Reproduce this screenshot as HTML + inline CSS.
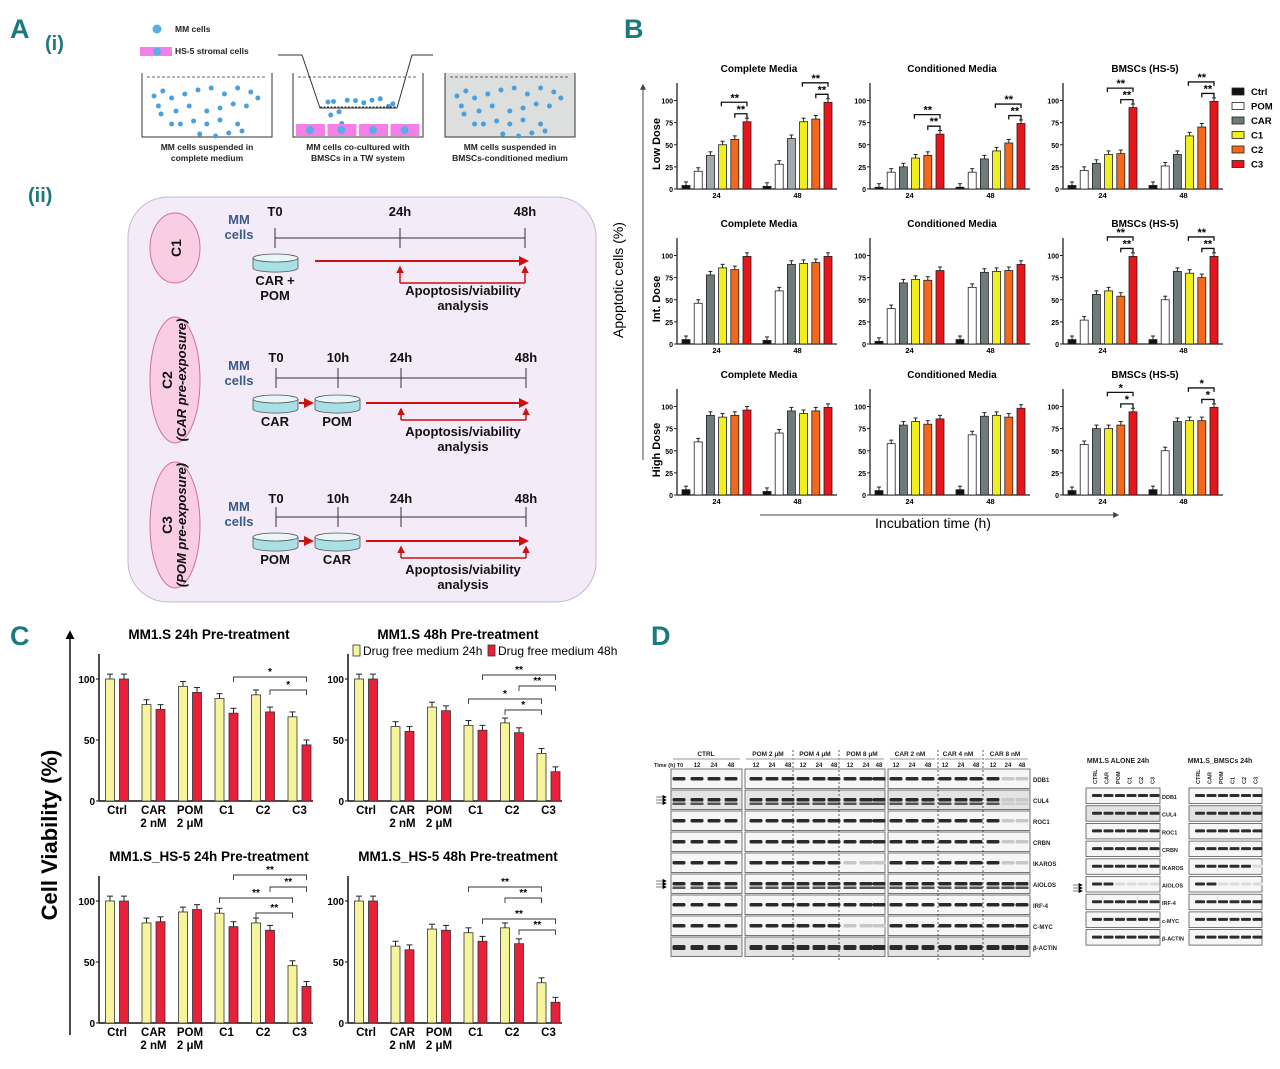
<!DOCTYPE html>
<html><head><meta charset="utf-8"><style>
html,body{margin:0;padding:0;background:#fff}
svg{display:block;font-family:"Liberation Sans",sans-serif}
</style></head><body>
<svg id="fig" width="1280" height="1069" viewBox="0 0 1280 1069" xmlns="http://www.w3.org/2000/svg">
<defs>
<marker id="ah" viewBox="0 0 10 10" refX="8" refY="5" markerWidth="5" markerHeight="5" orient="auto"><path d="M0,0 L10,5 L0,10 z" fill="#cc1111"/></marker>
<marker id="ahk" viewBox="0 0 10 10" refX="8" refY="5" markerWidth="6" markerHeight="6" orient="auto"><path d="M0,0 L10,5 L0,10 z" fill="#000"/></marker>
<marker id="ahg" viewBox="0 0 10 10" refX="8" refY="5" markerWidth="6" markerHeight="6" orient="auto"><path d="M0,0 L10,5 L0,10 z" fill="#444"/></marker>
</defs>
<g font-weight="bold" fill="#1a7a80" font-size="27">
<text x="10" y="38">A</text>
<text x="624" y="38">B</text>
<text x="10" y="645">C</text>
<text x="651" y="645">D</text>
<text x="45" y="50" font-size="20">(i)</text>
<text x="28" y="202" font-size="20">(ii)</text>
</g>
<g id="panelA"></g>
<g id="panelB"></g>
<g id="panelC"></g>
<g id="panelD"></g>
</svg>
<script>
// ---------- Panel B data ----------
const bSeries = ["Ctrl","POM","CAR","C1","C2","C3"];
const bTimes = ["24","48"];
const bTicks = [0,25,50,75,100];
const bRows = ["Low Dose","Int. Dose","High Dose"];
const bCols = ["Complete Media","Conditioned Media","BMSCs (HS-5)"];
const lowCM24=[4,20,38,50,56,76], lowCM48=[3,28,57,76,79,98];
const lowCo24=[2,19,25,35,38,62], lowCo48=[2,19,34,43,52,74];
const lowBM24=[4,21,29,39,40,92], lowBM48=[4,26,39,60,70,99];
const intCM24=[5,46,78,86,84,99], intCM48=[4,60,90,91,92,99];
const intCo24=[3,40,69,73,72,83], intCo48=[5,64,81,82,83,90];
const intBM24=[5,27,56,60,54,99], intBM48=[5,50,82,80,75,99];
const hiCM24=[6,60,90,88,90,96], hiCM48=[4,70,95,92,95,99];
const hiCo24=[5,58,79,83,80,86], hiCo48=[6,68,89,90,88,98];
const hiBM24=[5,57,75,75,79,94], hiBM48=[6,50,83,84,84,99];
// ---------- Panel C data ----------
const cCats = [["Ctrl"],["CAR","2 nM"],["POM","2 \u03bcM"],["C1"],["C2"],["C3"]];
const cTicks = [0,50,100];
const cTitles = ["MM1.S 24h Pre-treatment","MM1.S 48h Pre-treatment","MM1.S_HS-5 24h Pre-treatment","MM1.S_HS-5 48h Pre-treatment"];
const c24a=[100,79,94,84,87,69], c48a=[100,75,89,72,73,46];
const c24b=[100,61,77,62,64,39], c48b=[100,57,74,58,56,24];
const c24c=[100,82,91,90,82,47], c48c=[100,83,93,79,76,30];
const c24d=[100,63,77,74,78,33], c48d=[100,60,76,67,65,17];

const NS="http://www.w3.org/2000/svg";
function mk(parent,tag,attrs,txt){const e=document.createElementNS(NS,tag);for(const k in attrs)e.setAttribute(k,attrs[k]);if(txt!==undefined)e.textContent=txt;parent.appendChild(e);return e;}

// ================= Panel A =================
(function(){
const A=document.getElementById('panelA');
const t=(x,y,s,fs,anchor,fill,name,w)=>{const e=mk(A,'text',{x:x,y:y,'font-size':fs,'text-anchor':anchor||'start','font-weight':w||'bold',fill:fill||'#222'},s);return e;};
mk(A,'circle',{cx:157,cy:29,r:4.5,fill:'#5aaee8'});
t(175,32,'MM cells',8.5,'start','#222','legend-mm-cells');
mk(A,'rect',{x:140,y:47,width:32,height:9,fill:'#f57ee8'});
mk(A,'circle',{cx:157,cy:51.5,r:4,fill:'#5aaee8'});
t(175,54,'HS-5 stromal cells',8.5,'start','#222','legend-hs5');
const boxes=[142,293,445];
const dots=[[0,20],[10,15],[20,22],[35,18],[50,14],[65,12],[80,18],[95,12],[110,16],[118,22],[5,30],[25,35],[40,30],[60,35],[75,32],[90,28],[105,30],[30,48],[45,45],[60,48],[75,44],[95,48],[52,58],[70,60],[85,57],[100,55],[20,48],[8,38]];
boxes.forEach((bx,i)=>{
  const g=mk(A,'g',{});
  mk(g,'path',{d:`M${bx},73 L${bx},137 L${bx+130},137 L${bx+130},73`,fill:i==2?'#dcdfde':'none',stroke:'#333','stroke-width':1});
  mk(g,'line',{x1:bx+5,y1:77,x2:bx+125,y2:77,stroke:'#333','stroke-dasharray':'3,2','stroke-width':0.8});
  if(i==1){
    dots.slice(0,12).forEach((d,j)=>{mk(g,'circle',{cx:bx+35+(d[0]*0.55),cy:84+(d[1]*0.9)+ (j%3)*4,r:2.5,fill:'#4aa0dc'});});
    for(let k=0;k<4;k++){mk(g,'rect',{x:bx+3+k*31.5,y:124,width:29,height:12,fill:'#f57ee8'});mk(g,'circle',{cx:bx+17+k*31.5,cy:130,r:4,fill:'#5aaee8'});}
  } else {
    dots.forEach(d=>mk(g,'circle',{cx:bx+12+d[0]*0.88,cy:76+d[1]*1.0,r:2.5,fill:'#4aa0dc'}));
  }
});
mk(A,'path',{d:'M278,55 L302,55 L320,108 L397,108 L412,55 L433,55',fill:'none',stroke:'#333','stroke-width':1});
mk(A,'line',{x1:320,y1:107,x2:397,y2:107,stroke:'#333','stroke-dasharray':'2,1.5','stroke-width':1});
const caps=[['MM cells suspended in','complete medium'],['MM cells co-cultured with','BMSCs in a TW system'],['MM cells suspended in','BMSCs-conditioned medium']];
caps.forEach((c,i)=>{t(boxes[i]+65,150,c[0],8.5,'middle','#222','caption-'+(i+1)+'-line1');t(boxes[i]+65,161,c[1],8.5,'middle','#222','caption-'+(i+1)+'-line2');});
const box=mk(A,'rect',{x:128,y:197,width:468,height:405,rx:40,fill:'#f4ebf8',stroke:'#c9b3d6','stroke-width':1});

const ovals=[[248,35,'C1',''],[380,63,'C2','(CAR pre-exposure)'],[525,63,'C3','(POM pre-exposure)']];
ovals.forEach((o,i)=>{
  const e=mk(A,'ellipse',{cx:175,cy:o[0],rx:25,ry:o[1],fill:'#f9cde3',stroke:'#d0708f','stroke-width':1});
  
  const tx=mk(A,'text',{transform:`translate(${o[3]?172:181},${o[0]}) rotate(-90)`,'text-anchor':'middle','font-size':14,'font-weight':'bold',fill:'#111'},o[2]);
  
  if(o[3]){const t2=mk(A,'text',{transform:`translate(186,${o[0]}) rotate(-90)`,'text-anchor':'middle','font-size':13,'font-weight':'bold','font-style':'italic',fill:'#111'},o[3]);}
});
function dish(x,y,name){const g=mk(A,'g',{});
  mk(g,'path',{d:`M${x},${y-4} L${x},${y+6} A22,4 0 0 0 ${x+45},${y+6} L${x+45},${y-4}`,fill:'#a9e0e6',stroke:'#555','stroke-width':0.8});
  mk(g,'ellipse',{cx:x+22.5,cy:y-4,rx:22.5,ry:4,fill:'#e8f6f8',stroke:'#555','stroke-width':0.8});}
const rows=[{ly:238,lab:216,dy:262,ay:261,by:283,pts:[[275,'T0'],[400,'24h'],[525,'48h']],dishes:[[253,'CAR +','POM']],ax:315,t1:295},
 {ly:378,lab:362,dy:403,ay:403,by:420,pts:[[276,'T0'],[338,'10h'],[401,'24h'],[526,'48h']],dishes:[[253,'CAR'],[315,'POM']],ax:366,t1:436},
 {ly:517,lab:503,dy:541,ay:541,by:558,pts:[[276,'T0'],[338,'10h'],[401,'24h'],[526,'48h']],dishes:[[253,'POM'],[315,'CAR']],ax:366,t1:574}];
rows.forEach((r,i)=>{
  t(239,r.lab+8,'MM',13,'middle','#3a5a8a','mm-label-'+(i+1));
  t(239,r.lab+23,'cells',13,'middle','#3a5a8a','cells-label-'+(i+1));
  mk(A,'line',{x1:r.pts[0][0],y1:r.ly,x2:r.pts[r.pts.length-1][0],y2:r.ly,stroke:'#333','stroke-width':1});
  r.pts.forEach(p=>{mk(A,'line',{x1:p[0],y1:r.ly-10,x2:p[0],y2:r.ly+10,stroke:'#333','stroke-width':1});t(p[0],r.lab,p[1],13,'middle','#111','time-'+p[1]+'-'+(i+1));});
  r.dishes.forEach((d,j)=>{dish(d[0],r.dy,'dish-'+(i+1)+'-'+(j+1));t(d[0]+22,r.dy+23,d[1],13,'middle','#111','drug-'+(i+1)+'-'+(j+1));if(d[2])t(d[0]+22,r.dy+38,d[2],13,'middle','#111','drug2-'+(i+1));});
  if(r.dishes.length>1)mk(A,'line',{x1:299,y1:r.dy,x2:312,y2:r.dy,stroke:'#cc1111','stroke-width':2,'marker-end':'url(#ah)'});
  mk(A,'line',{x1:r.ax,y1:r.ay,x2:527,y2:r.ay,stroke:'#cc1111','stroke-width':2,'marker-end':'url(#ah)'});
  const x24=r.pts[r.pts.length-2][0],x48=r.pts[r.pts.length-1][0];
  mk(A,'path',{d:`M${x24},${r.by} L${x48},${r.by}`,stroke:'#cc1111','stroke-width':1.5,fill:'none'});
  mk(A,'line',{x1:x24,y1:r.by,x2:x24,y2:r.ay+6,stroke:'#cc1111','stroke-width':1.5,'marker-end':'url(#ah)'});
  mk(A,'line',{x1:x48,y1:r.by,x2:x48,y2:r.ay+6,stroke:'#cc1111','stroke-width':1.5,'marker-end':'url(#ah)'});
  t(463,r.t1,'Apoptosis/viability',13,'middle','#111','apoptosis-'+(i+1));
  t(463,r.t1+15,'analysis',13,'middle','#111','analysis-'+(i+1));
});
})();

// ================= Panel B =================
(function(){
const B=document.getElementById('panelB');
const data=[[[lowCM24,lowCM48],[lowCo24,lowCo48],[lowBM24,lowBM48]],
            [[intCM24,intCM48],[intCo24,intCo48],[intBM24,intBM48]],
            [[hiCM24,hiCM48],[hiCo24,hiCo48],[hiBM24,hiBM48]]];
const colors=['#111','#fff','#6f7b7b','#f0f01e','#f4681c','#e8161a'];
const axX=[677,870,1063], y0s=[189,344,495];
const sig={"0-0":["**","**"],"0-1":["**","**"],"0-2":["**","**"],"1-2":["**","**"],"2-2":["*","*"]};
for(let r=0;r<3;r++)for(let c=0;c<3;c++){
  const g=mk(B,'g',{});
  const ax=axX[c],y0=y0s[r];
  const y=v=>y0-v*0.885;
  const xb=(gi,si)=>ax+9+gi*81+si*12.2;
  const tt=mk(g,'text',{x:ax+82,y:y0-117,'text-anchor':'middle','font-size':10,'font-weight':'bold'},bCols[c]);
  
  mk(g,'line',{x1:ax,y1:y0-106,x2:ax,y2:y0,stroke:'#222','stroke-width':1.3});
  mk(g,'line',{x1:ax,y1:y0,x2:ax+160,y2:y0,stroke:'#222','stroke-width':1.3});
  bTicks.forEach(v=>{mk(g,'line',{x1:ax-3,y1:y(v),x2:ax,y2:y(v),stroke:'#222'});const e=mk(g,'text',{x:ax-4,y:y(v)+3,'text-anchor':'end','font-size':7,'font-weight':'bold'},v);});
  bTimes.forEach((tm,gi)=>{
    const e=mk(g,'text',{x:xb(gi,2.5),y:y0+9,'text-anchor':'middle','font-size':7.5,'font-weight':'bold'},tm);
    data[r][c][gi].forEach((v,si)=>{
      const x=xb(gi,si);
      mk(g,'line',{x1:x,y1:y(v),x2:x,y2:y(v+4),stroke:'#222','stroke-width':1});
      mk(g,'line',{x1:x-2,y1:y(v+4),x2:x+2,y2:y(v+4),stroke:'#222','stroke-width':1});
      const col=(si==2&&r==0&&c==0)?'#a2aaad':colors[si];
      const b=mk(g,'rect',{x:x-4,y:y(v),width:8,height:y0-y(v),fill:col,stroke:'#222','stroke-width':0.8});
      
    });
    const s=sig[r+'-'+c];
    if(s){
      const d=data[r][c][gi],top=Math.max(d[4],d[5]);
      const y1=y(top+9),y2=y(top+22);
      mk(g,'path',{d:`M${xb(gi,4)},${y1+4} V${y1} H${xb(gi,5)} V${y1+4}`,fill:'none',stroke:'#111','stroke-width':1.3});
      mk(g,'path',{d:`M${xb(gi,2.9)},${y2+4} V${y2} H${xb(gi,5)} V${y2+4}`,fill:'none',stroke:'#111','stroke-width':1.3});
      const a=mk(g,'text',{x:xb(gi,4.5),y:y1-1,'text-anchor':'middle','font-size':11,'font-weight':'bold'},s[0]);
      const b2=mk(g,'text',{x:xb(gi,4),y:y2-1,'text-anchor':'middle','font-size':11,'font-weight':'bold'},s[1]);
    }
  });
  if(c==0){const e=mk(g,'text',{transform:`translate(${ax-17},${y0-45}) rotate(-90)`,'text-anchor':'middle','font-size':11,'font-weight':'bold'},bRows[r]);}
}
mk(B,'line',{x1:643,y1:460,x2:643,y2:85,stroke:'#444','stroke-width':1,'marker-end':'url(#ahg)'});
let e=mk(B,'text',{transform:'translate(623,280) rotate(-90)','text-anchor':'middle','font-size':14},'Apoptotic cells (%)');
mk(B,'line',{x1:760,y1:515,x2:1118,y2:515,stroke:'#444','stroke-width':1,'marker-end':'url(#ahg)'});
e=mk(B,'text',{x:933,y:528,'text-anchor':'middle','font-size':14},'Incubation time (h)');
bSeries.forEach((s,i)=>{
  const r=mk(B,'rect',{x:1232,y:88+i*14.5,width:12,height:7,fill:colors[i],stroke:'#222','stroke-width':0.8});
  const t=mk(B,'text',{x:1251,y:95+i*14.5,'font-size':9.5,'font-weight':'bold'},s);
});
})();

// ================= Panel C =================
(function(){
const C=document.getElementById('panelC');
const sets=[[c24a,c48a],[c24b,c48b],[c24c,c48c],[c24d,c48d]];
const origins=[[99,801],[348,801],[99,1023],[348,1023]];
// [fromCat, fromSide(0 yellow,1 red), toSide, label, y]
const brackets=[
 [[3,1,1,'*',677],[4,1,1,'*',690]],
 [[3,1,1,'**',675],[4,1,1,'**',686],[3,0,0,'*',699],[4,0,0,'*',710]],
 [[3,1,1,'**',875],[4,1,1,'**',887],[3,0,0,'**',898],[4,0,0,'**',913]],
 [[3,0,0,'**',887],[4,0,0,'**',898],[3,1,1,'**',919],[4,1,1,'**',930]]];
sets.forEach((s,k)=>{
  const g=mk(C,'g',{});
  const [ax,y0]=origins[k];
  const y=v=>y0-v*1.22;
  const xc=i=>ax+18+i*36.5;
  const t=mk(g,'text',{x:ax+110,y:y0-162,'text-anchor':'middle','font-size':13.5,'font-weight':'bold'},cTitles[k]);
  mk(g,'line',{x1:ax,y1:y0-147,x2:ax,y2:y0,stroke:'#111','stroke-width':1.5});
  mk(g,'line',{x1:ax,y1:y0,x2:ax+214,y2:y0,stroke:'#111','stroke-width':1.5});
  cTicks.forEach(v=>{mk(g,'line',{x1:ax-3,y1:y(v),x2:ax,y2:y(v),stroke:'#111'});const e=mk(g,'text',{x:ax-4,y:y(v)+4,'text-anchor':'end','font-size':10,'font-weight':'bold'},v);});
  cCats.forEach((cat,i)=>{
    cat.forEach((l,j)=>{const e=mk(g,'text',{x:xc(i),y:y0+13+j*13,'text-anchor':'middle','font-size':11.5,'font-weight':'bold'},l);});
    [0,1].forEach(j=>{
      const v=s[j][i],x=xc(i)+(j?7:-7);
      mk(g,'line',{x1:x,y1:y(v),x2:x,y2:y(v+4),stroke:'#222'});
      mk(g,'line',{x1:x-3,y1:y(v+4),x2:x+3,y2:y(v+4),stroke:'#222'});
      const b=mk(g,'rect',{x:x-4.5,y:y(v),width:9,height:y0-y(v),fill:j?'#e8203a':'#f6f59c',stroke:'#333','stroke-width':0.8});
      
    });
  });
  brackets[k].forEach(br=>{
    const yy=br[4],x1=xc(br[0])+(br[1]?7:-7),x2=xc(5)+(br[2]?7:-7);
    mk(g,'path',{d:`M${x1},${yy+5} V${yy} H${x2} V${yy+5}`,fill:'none',stroke:'#333','stroke-width':0.9});
    const e=mk(g,'text',{x:(x1+x2)/2,y:yy-2,'text-anchor':'middle','font-size':10,'font-weight':'bold'},br[3]);
  });
});
mk(C,'line',{x1:70,y1:1035,x2:70,y2:632,stroke:'#111','stroke-width':1.5,'marker-end':'url(#ahk)'});
let e=mk(C,'text',{transform:'translate(57,835) rotate(-90)','text-anchor':'middle','font-size':22,'font-weight':'bold'},'Cell Viability (%)');
const lg=mk(C,'g',{});
mk(lg,'rect',{x:353,y:645,width:7,height:11,fill:'#f6f59c',stroke:'#333','stroke-width':0.8});
e=mk(lg,'text',{x:363,y:655,'font-size':12},'Drug free medium 24h');
mk(lg,'rect',{x:488,y:645,width:7,height:11,fill:'#e8203a',stroke:'#333','stroke-width':0.8});
e=mk(lg,'text',{x:498,y:655,'font-size':12},'Drug free medium 48h');
})();

// ================= Panel D =================
(function(){
const D=document.getElementById('panelD');
const prot=['DDB1','CUL4','ROC1','CRBN','IKAROS','AIOLOS','IRF-4','C-MYC','\u03b2-ACTIN'];
const prot2=['DDB1','CUL4','ROC1','CRBN','IKAROS','AIOLOS','IRF-4','c-MYC','\u03b2-ACTIN'];
const tx=(x,y,s,fs,anchor,name,extra)=>{const a=Object.assign({x:x,y:y,'font-size':fs,'text-anchor':anchor,'font-weight':'bold',fill:'#222'},extra||{});const e=mk(D,'text',a,s);return e;};
const heads=[['CTRL',706,673,740],['POM 2 \u03bcM',768,746,792],['POM 4 \u03bcM',815,794,838],['POM 8 \u03bcM',862,840,884],['CAR 2 nM',910,890,935],['CAR 4 nM',958,940,981],['CAR 8 nM',1005,985,1028]];
heads.forEach(h=>{tx(h[1],756,h[0],6.5,'middle','group-header');mk(D,'line',{x1:h[2],y1:759,x2:h[3],y2:759,stroke:'#777','stroke-width':0.8});});
tx(654,767,'Time (h) T0',5.5,'start','time-header');
const lanes1=[[679,697,714,731],[756,772,788,803,819,834,850,866,879],[896,912,928,945,961,976,993,1008,1022]];
const tl=['12','24','48'];
lanes1[0].slice(1).forEach((x,i)=>tx(x,767,tl[i],6,'middle','lane-label'));
lanes1[1].concat(lanes1[2]).forEach((x,i)=>tx(x,767,tl[i%3],6,'middle','lane-label'));
const gx=[[671,742],[745,885],[888,1030]];
prot.forEach((p,r)=>{
  const y=769+r*21;
  gx.forEach((gg,gi)=>{
    const bx=mk(D,'rect',{x:gg[0],y:y,width:gg[1]-gg[0],height:19.5,fill:(r==8||r==1)?'#e4e4e4':'#f6f6f6',stroke:'#555','stroke-width':0.8});
    
    lanes1[gi].forEach((lx,li)=>{
      const fade=(gi==2&&li>=7&&r<5)||(gi==1&&li>=6&&(r==4||r==7));
      mk(D,'rect',{x:lx-6.5,y:y+8,width:13,height:r==8?5:3.5,rx:1.5,fill:fade?'#c8c8c8':'#2a2a2a'});
      if(r==1||r==5)mk(D,'rect',{x:lx-6.5,y:y+12.5,width:13,height:2.5,fill:fade?'#ccc':'#555'});
    });
  });
  tx(1033,y+13,p,6,'start','protein-label-'+r);
});
[[793],[839],[938],[983]].forEach(d=>mk(D,'line',{x1:d[0],y1:750,x2:d[0],y2:962,stroke:'#333','stroke-width':0.8,'stroke-dasharray':'2,2'}));
[797,881].forEach(yy=>{for(let k=0;k<3;k++)mk(D,'line',{x1:656,y1:yy+k*3,x2:666,y2:yy+k*3,stroke:'#444','stroke-width':0.7,'marker-end':'url(#ahk)'});});
tx(1118,763,'MM1.S ALONE 24h',7,'middle','header-alone');
tx(1220,763,'MM1.S_BMSCs 24h',7,'middle','header-bmscs');
const cl=['CTRL','CAR','POM','C1','C2','C3'];
const rg=[[1086,1160],[1189,1262]];
rg.forEach((gg,gi)=>{
  cl.forEach((c,ci)=>{const x=gg[0]+9+ci*11.5;tx(x,782,c,5.5,'start','column-'+c,{transform:`rotate(-90 ${x+2} 782)`});});
});
prot2.forEach((p,r)=>{
  const y=788+r*17.7;
  rg.forEach((gg,gi)=>{
    const bx=mk(D,'rect',{x:gg[0],y:y,width:gg[1]-gg[0],height:15.5,fill:r==1?'#e2e2e2':'#f6f6f6',stroke:'#555','stroke-width':0.8});
    
    cl.forEach((c,ci)=>{const x=gg[0]+11+ci*11.5;const fade=(r==5&&ci>=2)||(r==4&&gi==1&&ci==5);
      mk(D,'rect',{x:x-5,y:y+6,width:10,height:3,rx:1,fill:fade?'#dcdcdc':'#2d2d2d'});});
  });
  tx(1162,y+11,p,5.5,'start','protein2-label-'+r);
});
for(let k=0;k<3;k++)mk(D,'line',{x1:1073,y1:885+k*3,x2:1082,y2:885+k*3,stroke:'#444','stroke-width':0.7,'marker-end':'url(#ahk)'});
})();
</script>
</body></html>
